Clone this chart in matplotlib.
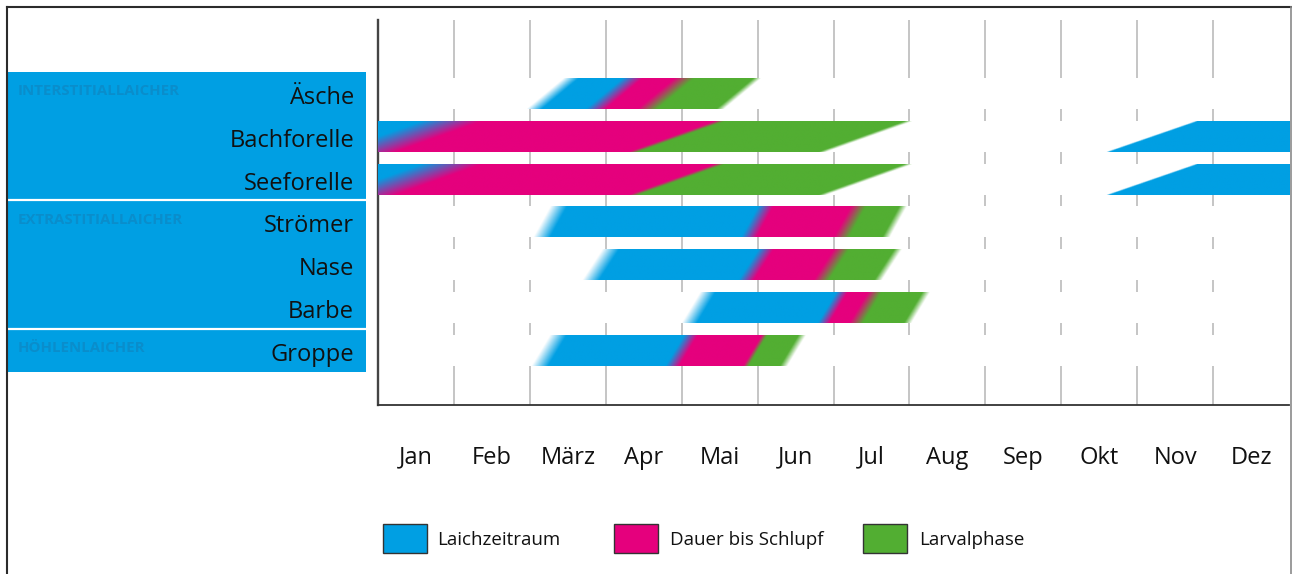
import numpy as np
import matplotlib
matplotlib.use('Agg')
import matplotlib.pyplot as plt
from matplotlib.colors import to_rgb
from matplotlib.patches import Rectangle
from matplotlib.lines import Line2D

plt.rcParams['font.family'] = ['Open Sans', 'DejaVu Sans']

fish = ['Äsche', 'Bachforelle', 'Seeforelle', 'Strömer', 'Nase', 'Barbe', 'Groppe']
months = ['Jan', 'Feb', 'März', 'Apr', 'Mai', 'Jun', 'Jul', 'Aug', 'Sep', 'Okt', 'Nov', 'Dez']
phases = ['Laichzeitraum', 'Dauer bis Schlupf', 'Larvalphase']
phase_colors = ['#009FE3', '#E5007D', '#52AE32']

groups = ['INTERSTITIALLAICHER', 'EXTRASTITIALLAICHER', 'HÖHLENLAICHER']
group_first = [0, 3, 6]
group_last = [2, 5, 6]

# month positions (0 = 1. Jan, 12 = 31. Dez), read at mid bar height
spawn_start = [2.30, -1.00, -1.00, 2.27, 2.93, 4.22, 2.25]
hatch_start = [3.11, 0.40, 0.40, 5.00, 4.98, 5.99, 4.00]
larva_start = [3.79, 3.93, 3.93, 6.22, 5.97, 6.42, 4.97]
larva_end = [4.75, 6.42, 6.42, 6.81, 6.72, 7.10, 5.47]

# spawning which begins in autumn and runs on into the next year
autumn_rows = [1, 2]
autumn_start = [10.19, 10.19]
autumn_end = [13.0, 13.0]

# drawing style per bar
slant = [0.48, 1.12, 1.12, 0.22, 0.26, 0.24, 0.24]
blend_hatch = [0.26, 0.80, 0.80, 0.20, 0.20, 0.15, 0.18]
blend_larva = [0.26, 0.12, 0.12, 0.20, 0.20, 0.18, 0.07]
fade_in = [0.20, 0.05, 0.05, 0.22, 0.22, 0.20, 0.22]
fade_out = 0.10
bar_h = 0.72

W, H = 1292, 574
fig = plt.figure(figsize=(W / 100, H / 100), dpi=100)
ax = fig.add_axes([378 / W, (H - 405) / H, 911 / W, 385 / H])


def draw_bar(ax, row, stops, cols, blends, sl, fin, fout):
    x0 = stops[0] - sl / 2 - fin
    x1 = stops[-1] + sl / 2 + fout
    nx = max(int((x1 - x0) * 150), 60)
    ny = 40
    xs = np.linspace(x0, x1, nx)
    yf = np.linspace(0.5, -0.5, ny)
    U = xs[None, :] - sl * yf[:, None]
    rgb = np.ones((ny, nx, 3)) * np.array(to_rgb(cols[0]))
    for k in range(1, len(cols)):
        w = np.clip((U - (stops[k] - blends[k - 1] / 2)) / blends[k - 1], 0, 1)[..., None]
        rgb = rgb * (1 - w) + np.array(to_rgb(cols[k])) * w
    a = np.clip((U - (stops[0] - fin / 2)) / fin, 0, 1) * \
        np.clip(((stops[-1] + fout / 2) - U) / fout, 0, 1)
    img = np.dstack([rgb, a])
    ax.imshow(img, extent=(x0, x1, row + bar_h / 2, row - bar_h / 2),
              aspect='auto', interpolation='bilinear', zorder=3)


# month grid, hidden behind the rows
ax.vlines(np.arange(1, 12), -2, 8, color='#b5b5b5', lw=1.1, zorder=0)
ax.barh(np.arange(len(fish)), 12, left=0, height=bar_h, color='white', zorder=1)

for i in range(len(fish)):
    stops = [spawn_start[i], hatch_start[i], larva_start[i], larva_end[i]]
    draw_bar(ax, i, stops, phase_colors, [blend_hatch[i], blend_larva[i]],
             slant[i], fade_in[i], fade_out)
for r, s, e in zip(autumn_rows, autumn_start, autumn_end):
    draw_bar(ax, r, [s, e], phase_colors[:1], [], 1.15, 0.04, 0.04)

ax.set_xlim(0, 12)
ax.set_ylim(7.278, -1.717)
ax.set_xticks([])
ax.set_yticks([])
for s in ['top', 'right']:
    ax.spines[s].set_visible(False)
ax.spines['left'].set_color('#444444')
ax.spines['left'].set_linewidth(1.7)
ax.spines['bottom'].set_color('#333333')
ax.spines['bottom'].set_linewidth(1.3)

for i, m in enumerate(months):
    ax.text(i + 0.5, -0.152, m, transform=ax.get_xaxis_transform(),
            ha='center', va='baseline', fontsize=17, color='#111111')

# label panel on the left
lax = fig.add_axes([7 / W, (H - 405) / H, 359 / W, 385 / H])
lax.set_xlim(0, 1)
lax.set_ylim(7.278, -1.717)
lax.axis('off')
for g, f, l in zip(groups, group_first, group_last):
    lax.add_patch(Rectangle((0, f - 0.5), 1, l - f + 1, color='#009FE3', lw=0))
    lax.text(0.029, f + 0.04, g, ha='left', va='baseline', fontsize=10.8,
             fontweight='bold', color='#0a8dcb')
for l in group_last[:-1]:
    lax.hlines(l + 0.5, 0, 1, color='white', lw=1.6)
for i, name in enumerate(fish):
    lax.text(0.967, i + 0.245, name, ha='right', va='baseline', fontsize=17,
             color='#111111')

# legend
leg_box_x = [383, 614, 863]
leg_text_x = [437.6, 670, 918.8]
for bx, tx, name, c in zip(leg_box_x, leg_text_x, phases, phase_colors):
    fig.add_artist(Rectangle((bx / W, (H - 553) / H), 44 / W, 29 / H,
                             transform=fig.transFigure, facecolor=c,
                             edgecolor='#333333', lw=1.0))
    fig.text(tx / W, (H - 545) / H, name, ha='left', va='baseline',
             fontsize=13.5, color='#111111')

# outer frame
fig.add_artist(Line2D([7 / W, 7 / W], [0, 1 - 7 / H], color='#2b2b2b', lw=1.5))
fig.add_artist(Line2D([7 / W, 1291 / W], [1 - 7 / H, 1 - 7 / H], color='#2b2b2b', lw=1.5))
fig.add_artist(Line2D([1291 / W, 1291 / W], [0, 1 - 7 / H], color='#8a8a8a', lw=1.2))

fig.savefig('out.png', dpi=100)
